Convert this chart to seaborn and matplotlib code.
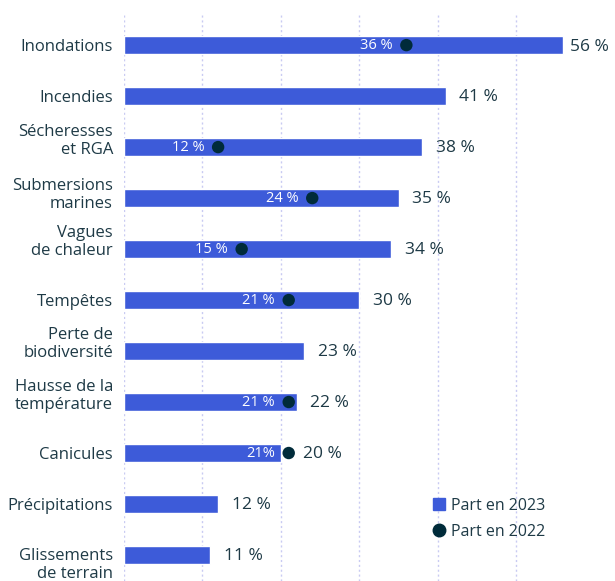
import matplotlib
matplotlib.use("Agg")
import matplotlib.pyplot as plt
import matplotlib.transforms as mtransforms
import seaborn as sns
import pandas as pd
import numpy as np
from matplotlib.lines import Line2D

categories = ["Inondations", "Incendies", "Sécheresses\net RGA", "Submersions\nmarines",
              "Vagues\nde chaleur", "Tempêtes", "Perte de\nbiodiversité",
              "Hausse de la\ntempérature", "Canicules", "Précipitations",
              "Glissements\nde terrain"]
part_2023 = [56, 41, 38, 35, 34, 30, 23, 22, 20, 12, 11]
part_2022 = [36, None, 12, 24, 15, 21, None, 21, 21, None, None]
labels_2022 = ["36 %", None, "12 %", "24 %", "15 %", "21 %", None, "21 %", "21%", None, None]

BAR = "#3d5bd9"
DOT = "#002b3a"
TXT = "#1e3a46"

sns.set_theme(style="white")
plt.rcParams['font.family'] = ['Open Sans', 'DejaVu Sans']

df = pd.DataFrame({"cat": categories, "v23": part_2023,
                   "v22": [np.nan if v is None else v for v in part_2022]})

fig = plt.figure(figsize=(6.15, 5.81), dpi=100)
ax = fig.add_axes([124/615, 0, 1 - 124/615, 1 - 13/581])

sns.barplot(data=df, y="cat", x="v23", orient="h", color=BAR, width=0.36,
            saturation=1, ax=ax, zorder=2)
d22 = df.dropna(subset=["v22"])
sns.scatterplot(data=d22, y="cat", x="v22", color=DOT, s=80, edgecolor="none",
                ax=ax, zorder=4, legend=False)

vmax = max(part_2023)
for i, (v, v2, lab) in enumerate(zip(part_2023, part_2022, labels_2022)):
    end = max(v, v2 if v2 is not None else 0)
    off = 5 if v == vmax else 10
    ax.annotate(f"{v} %", (end, i), xytext=(off, -1), textcoords="offset points",
                ha="left", va="center", fontsize=12.5, color=TXT)
    if v2 is not None:
        ax.annotate(lab, (v2, i), xytext=(-10, 0), textcoords="offset points",
                    ha="right", va="center", fontsize=10.5, color="white", zorder=5)

ax.set_xlim(0, 62.6)
ax.set_ylim(10.51, -0.63)
ax.set_xticks([0, 10, 20, 30, 40, 50])
ax.xaxis.grid(True, color="#c9cbf2", linestyle=(0, (1.5, 2)), linewidth=1)
ax.set_axisbelow(True)
ax.set_xticklabels([])
ax.set_yticklabels([])
ax.tick_params(axis="both", length=0)
ax.set_xlabel("")
ax.set_ylabel("")
for s in ax.spines.values():
    s.set_visible(False)

# category labels (vertical nudges in points)
nudge = {2: 4.5, 3: 2, 4: 5, 6: 5, 7: 4.5, 10: -7}
blend = mtransforms.blended_transform_factory(ax.transAxes, ax.transData)
for i, cat in enumerate(categories):
    dy = nudge.get(i, -1.2)
    tr = blend + mtransforms.ScaledTranslation(-8/72, dy/72, fig.dpi_scale_trans)
    ax.text(0, i, cat, transform=tr, ha="right", va="center", multialignment="right",
            fontsize=12, color=TXT, linespacing=1.18, clip_on=False)

handles = [Line2D([], [], marker="s", linestyle="none", color=BAR, markersize=9),
           Line2D([], [], marker="o", linestyle="none", color=DOT, markersize=9)]
leg = ax.legend(handles, ["Part en 2023", "Part en 2022"], loc="upper left",
                bbox_to_anchor=(0.595, 0.172), frameon=False, fontsize=11.5,
                handletextpad=0.3, labelspacing=0.65, handlelength=1.0)
for t in leg.get_texts():
    t.set_color(TXT)

fig.savefig("out.png", dpi=100)
